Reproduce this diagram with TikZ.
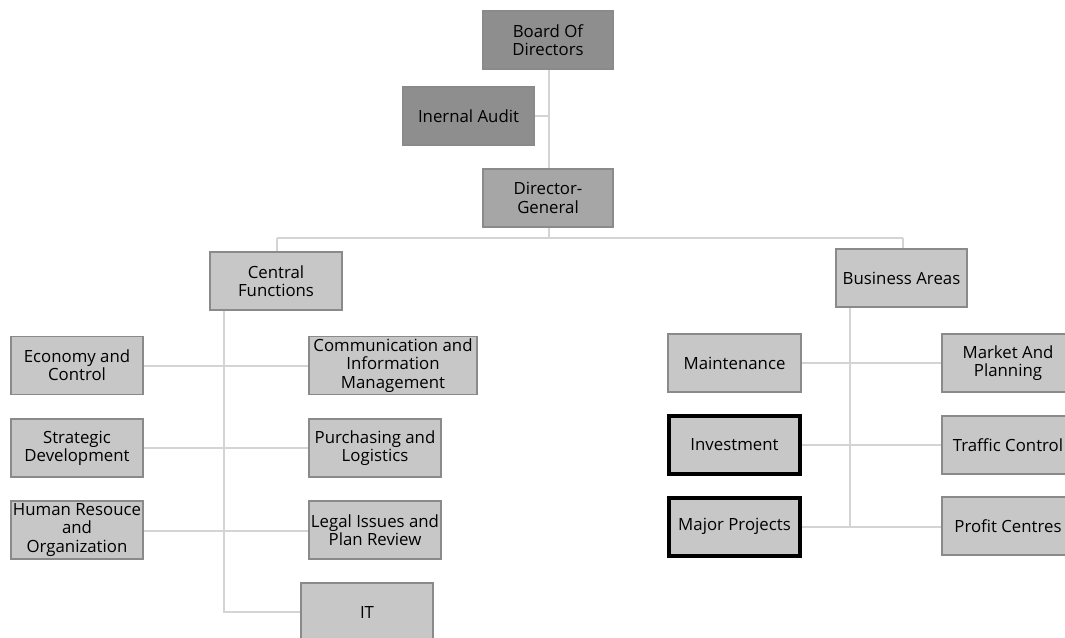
\documentclass[tikz,border=0pt]{standalone}
\usepackage{fontspec}
\setmainfont{Open Sans}
\begin{document}
\begin{tikzpicture}[x=1pt,y=-1pt,
  unit/.style={draw=boxline, line width=1.4pt, fill=#1, rectangle,
    minimum width=132pt, minimum height=58pt, inner sep=0pt, align=center,
    font=\fontsize{16.8}{18.3}\selectfont, text=black},
  unit/.default=lowfill,
  keyunit/.style={unit, draw=black, line width=4pt, minimum width=131pt, minimum height=58pt},
  link/.style={draw=linkgray, line width=1.3pt}]
\definecolor{boxline}{HTML}{8A8A8A}
\definecolor{topfill}{HTML}{8E8E8E}
\definecolor{dgfill}{HTML}{A6A6A6}
\definecolor{lowfill}{HTML}{C7C7C7}
\definecolor{linkgray}{HTML}{D4D4D4}
\useasboundingbox (0,0) rectangle (1065,637);
\fill[white] (0,0) rectangle (1065,637);
\clip (0,0) rectangle (1065,637);

% coordinates of the connector bus and trunks
\coordinate (busL) at (277,238);
\coordinate (busM) at (549,238);
\coordinate (busR) at (903,238);
\coordinate (cftop) at (224,310);
\coordinate (cfend) at (224,612);
\coordinate (batop) at (850,307);
\coordinate (baend) at (850,527);

% connectors (drawn first, boxes sit on top)
\draw[link] (549,69) -- (549,169);
\draw[link] (534,116) -- (549,116);
\draw[link] (549,227) -- (busM);
\draw[link] (busL) -- (busR);
\draw[link] (busL) -- (277,252);
\draw[link] (busR) -- (903,249);
\draw[link] (cftop) -- (cfend) -- (301,612);
\draw[link] (batop) -- (baend);
\draw[link] (143,366) -- (309,366);
\draw[link] (143,448) -- (309,448);
\draw[link] (143,531) -- (309,531);
\draw[link] (801,363) -- (942,363);
\draw[link] (802,445) -- (942,445);
\draw[link] (802,527) -- (942,527);

% board level
\node[unit=topfill, minimum width=130pt] (board) at (548,40) {Board Of\\Directors};
\node[unit=topfill, minimum width=131pt] (audit) at (468.5,116) {Inernal Audit};
\node[unit=dgfill, minimum width=130pt] (dg) at (548,198) {Director-\\General};

% central functions
\node[unit] (cf) at (276,281) {Central\\Functions};
\node[unit] (econ) at (77,365.5) {Economy and\\Control};
\node[unit, minimum width=168pt] (comm) at (393,365.5) {Communication and\\Information\\Management};
\node[unit] (strat) at (77,448) {Strategic\\Development};
\node[unit] (purch) at (375,448) {Purchasing and\\Logistics};
\node[unit] (human) at (77,530) {Human Resouce\\and\\Organization};
\node[unit] (legal) at (375,530) {Legal Issues and\\Plan Review};
\node[unit] (it) at (367,612) {IT};

% business areas
\node[unit, minimum width=131pt] (ba) at (901.5,278) {Business Areas};
\node[unit, minimum width=133pt] (maint) at (734.5,363) {Maintenance};
\node[unit] (market) at (1008,363) {Market And\\Planning};
\node[keyunit] (invest) at (734.5,445) {Investment};
\node[unit] (traffic) at (1008,445) {Traffic Control};
\node[keyunit] (major) at (734.5,526.5) {Major Projects};
\node[unit] (profit) at (1008,526) {Profit Centres};
\end{tikzpicture}
\end{document}
